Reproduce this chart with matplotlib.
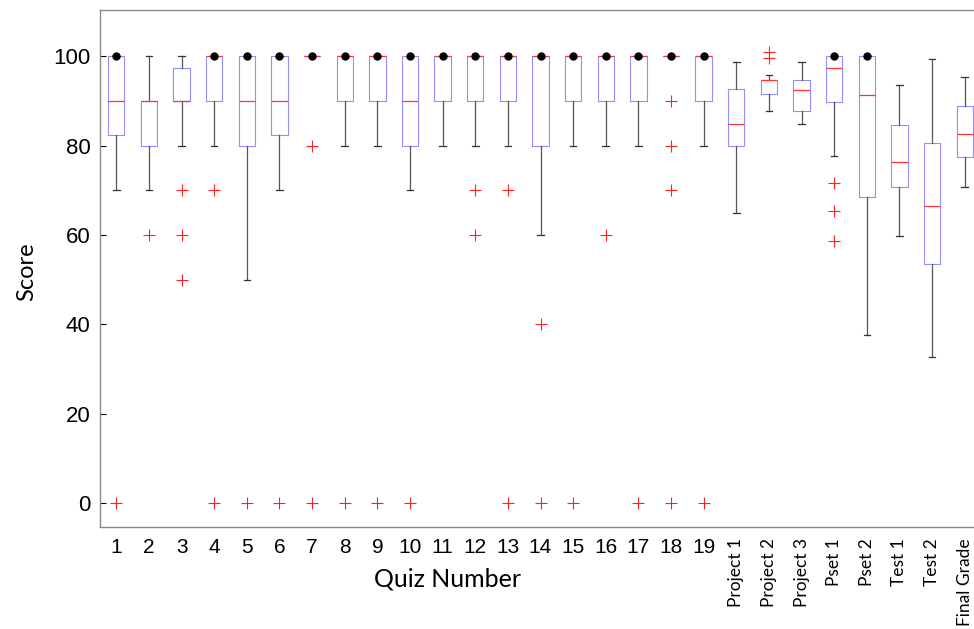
import matplotlib
matplotlib.use("Agg")
import matplotlib.pyplot as plt

# Score distributions per assignment (box plot summary statistics)
labels = [str(i) for i in range(1, 20)] + ["Project 1", "Project 2", "Project 3",
                                           "Pset 1", "Pset 2", "Test 1", "Test 2", "Final Grade"]

q1 = [82.5, 80, 90, 90, 80, 82.5, 100, 90, 90, 80, 90, 90, 90, 80, 90, 90, 90, 100, 90,
      79.9, 91.6, 87.7, 89.8, 68.5, 70.7, 53.4, 77.5]
med = [90, 90, 90, 100, 90, 90, 100, 100, 100, 90, 100, 100, 100, 100, 100, 100, 100, 100, 100,
       84.8, 94.8, 92.5, 97.5, 91.4, 76.3, 66.4, 82.7]
q3 = [100, 90, 97.5, 100, 100, 100, 100, 100, 100, 100, 100, 100, 100, 100, 100, 100, 100, 100, 100,
      92.8, 94.8, 94.8, 100, 100, 84.6, 80.6, 88.8]
whis_lo = [70, 70, 80, 80, 50, 70, 100, 80, 80, 70, 80, 80, 80, 60, 80, 80, 80, 100, 80,
           64.9, 87.8, 84.8, 77.6, 37.7, 59.7, 32.7, 70.7]
whis_hi = [100, 100, 100, 100, 100, 100, 100, 100, 100, 100, 100, 100, 100, 100, 100, 100, 100, 100, 100,
           98.7, 95.9, 98.7, 100, 100, 93.5, 99.5, 95.5]
outliers = [[0], [60], [70, 60, 50], [70, 0], [0], [0], [80, 0], [0], [0], [0],
            [], [70, 60], [70, 0], [40, 0], [0], [60], [0], [90, 80, 70, 0], [0],
            [], [101, 99.7], [], [71.6, 65.4, 58.7], [], [], [], []]

stats = []
for i, lab in enumerate(labels):
    stats.append(dict(label=lab, q1=q1[i], med=med[i], q3=q3[i],
                      whislo=whis_lo[i], whishi=whis_hi[i], fliers=outliers[i]))

positions = list(range(1, len(labels) + 1))

fig = plt.figure(figsize=(9.74, 6.29), dpi=100)
ax = fig.add_axes([100 / 974, 102 / 629, 881 / 974, 517 / 629])

ax.bxp(stats, positions=positions, widths=0.5, capwidths=0.2,
       boxprops=dict(color="#9090ff", linewidth=0.8),
       medianprops=dict(color="#ff3333", linewidth=0.9),
       whiskerprops=dict(color="#555555", linewidth=0.9),
       capprops=dict(color="#333333", linewidth=0.9),
       flierprops=dict(marker="+", markeredgecolor="#ff2020", markersize=8.5,
                       markeredgewidth=0.8, linestyle="none"))

# caps that sit on the top edge of a box show up as a heavy dot
for p, top, hi in zip(positions, q3, whis_hi):
    if top == hi:
        ax.plot(p, hi, "o", color="black", markersize=5, zorder=5)

ax.set_xlim(0.5, 27.5)
ax.set_ylim(-5.4, 110.4)
ax.set_yticks([0, 20, 40, 60, 80, 100])
ax.tick_params(axis="y", direction="in", length=4, labelsize=16, pad=7,
               right=True, left=True)
ax.tick_params(axis="x", length=0, pad=8)
for lbl in ax.get_yticklabels():
    lbl.set_family("Liberation Sans")

ax.set_xticks(positions)
ax.set_xticklabels(labels)
for i, lbl in enumerate(ax.get_xticklabels()):
    if i < 19:
        lbl.set_family("Liberation Sans")
        lbl.set_fontsize(15)
    else:
        lbl.set_family("Lato")
        lbl.set_fontsize(12.5)
        lbl.set_rotation(90)
        lbl.set_va("top")

for side in ["top", "left", "bottom", "right"]:
    ax.spines[side].set_color("#8a8a8a")
    ax.spines[side].set_linewidth(1.0)

fig.text(27 / 974, 1 - 272 / 629, "Score", rotation=90, ha="center", va="center",
         family="Lato", fontsize=17)
fig.text(447 / 974, 1 - 579 / 629, "Quiz Number", ha="center", va="center",
         family="Lato", fontsize=18)

fig.savefig("out.png", dpi=100)
